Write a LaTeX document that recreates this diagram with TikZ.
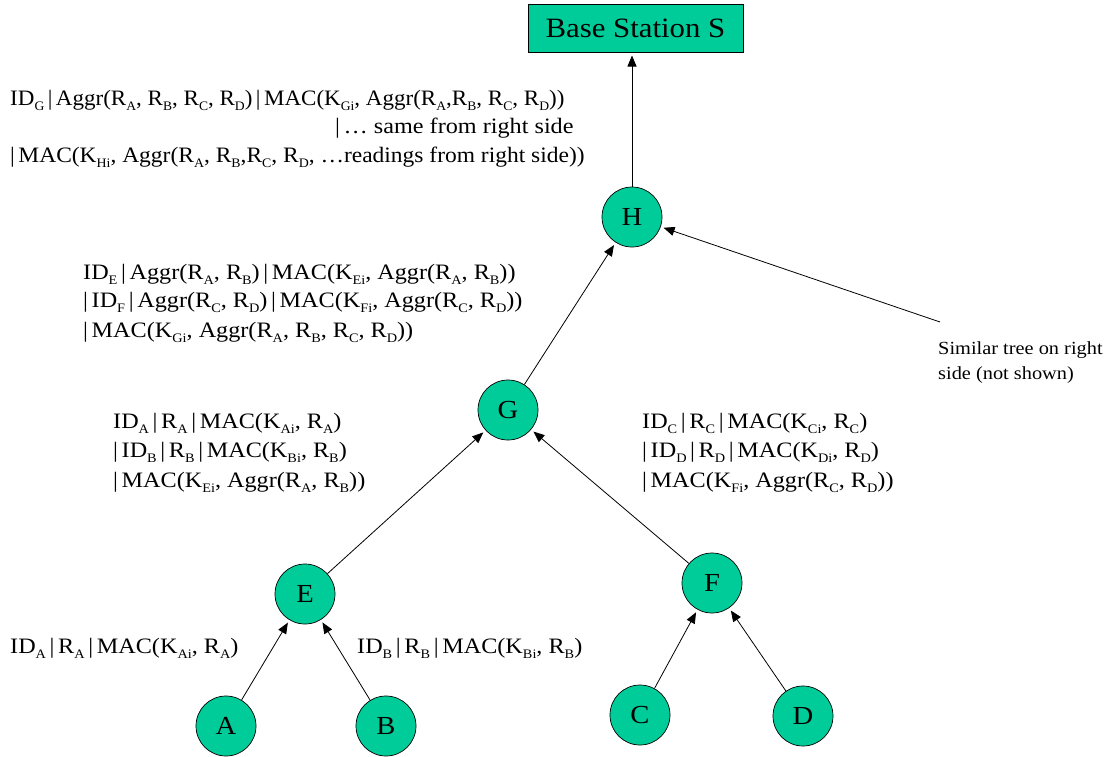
\documentclass[tikz,border=0pt]{standalone}
\usepackage{fontspec}
\setmainfont{Liberation Serif}[FakeStretch=1.1]
\usetikzlibrary{arrows.meta}
\definecolor{nodegreen}{RGB}{0,204,153}
% lowered small subscript letters used in the message formats
\newcommand{\sbs}[1]{\raisebox{-5pt}{\fontsize{13}{13}\selectfont #1}}
\begin{document}
\begin{tikzpicture}[x=1pt,y=-1pt,
  sensor/.style={circle,draw=black,line width=0.7pt,fill=nodegreen,
    minimum size=60pt,inner sep=0pt,font=\fontsize{26}{26}\selectfont},
  msg/.style={anchor=base west,inner sep=0pt,font=\fontsize{22}{22}\selectfont},
  note/.style={anchor=base west,inner sep=0pt,font=\fontsize{18.5}{18.5}\selectfont},
  link/.style={draw=black,line width=0.8pt,
    -{Triangle[length=11pt,width=9pt]},shorten >=3pt}]
\useasboundingbox (0,0) rectangle (1109,756);

% base station
\node[draw=black,line width=1pt,fill=nodegreen,minimum width=215pt,minimum height=48pt,
  inner sep=0pt,font=\fontsize{28}{28}\selectfont] (S) at (635.5,28) {Base Station S};

% sensor tree
\node[sensor] (H) at (632,217) {H};
\node[sensor] (G) at (508,410) {G};
\node[sensor] (E) at (305,594) {E};
\node[sensor] (F) at (712,583) {F};
\node[sensor] (A) at (226,726) {A};
\node[sensor] (B) at (386,726) {B};
\node[sensor] (C) at (640,715) {C};
\node[sensor] (D) at (803,716) {D};
\coordinate (R) at (940,322);

\draw[link] (H) -- (H |- S.south);
\draw[link] (G) -- (H);
\draw[link,shorten <=0pt] (R) -- (H);
\draw[link] (E) -- (G);
\draw[link] (F) -- (G);
\draw[link] (A) -- (E);
\draw[link] (B) -- (E);
\draw[link] (C) -- (F);
\draw[link] (D) -- (F);

% message sent by H
\node[msg] (h1) at (10,105) {\scalebox{0.952}[1]{ID\sbs{G}\,|\,Aggr(R\sbs{A}, R\sbs{B}, R\sbs{C}, R\sbs{D})\,|\,MAC(K\sbs{Gi}, Aggr(R\sbs{A},R\sbs{B}, R\sbs{C}, R\sbs{D}))}};
\node[msg] (h2) at (335,133) {|\,\dots\ same from right side};
\node[msg] (h3) at (10,162) {\scalebox{0.97}[1]{|\,MAC(K\sbs{Hi}, Aggr(R\sbs{A}, R\sbs{B},R\sbs{C}, R\sbs{D}, \dots readings from right side))}};

% message sent by G
\node[msg] (g1) at (83,279) {ID\sbs{E}\,|\,Aggr(R\sbs{A}, R\sbs{B})\,|\,MAC(K\sbs{Ei}, Aggr(R\sbs{A}, R\sbs{B}))};
\node[msg] (g2) at (83,307) {|\,ID\sbs{F}\,|\,Aggr(R\sbs{C}, R\sbs{D})\,|\,MAC(K\sbs{Fi}, Aggr(R\sbs{C}, R\sbs{D}))};
\node[msg] (g3) at (83,337) {|\,MAC(K\sbs{Gi}, Aggr(R\sbs{A}, R\sbs{B}, R\sbs{C}, R\sbs{D}))};

% message sent by E
\node[msg] (e1) at (113,428) {ID\sbs{A}\,|\,R\sbs{A}\,|\,MAC(K\sbs{Ai}, R\sbs{A})};
\node[msg] (e2) at (113,457) {|\,ID\sbs{B}\,|\,R\sbs{B}\,|\,MAC(K\sbs{Bi}, R\sbs{B})};
\node[msg] (e3) at (113,487) {|\,MAC(K\sbs{Ei}, Aggr(R\sbs{A}, R\sbs{B}))};

% message sent by F
\node[msg] (f1) at (642,428) {ID\sbs{C}\,|\,R\sbs{C}\,|\,MAC(K\sbs{Ci}, R\sbs{C})};
\node[msg] (f2) at (642,457) {|\,ID\sbs{D}\,|\,R\sbs{D}\,|\,MAC(K\sbs{Di}, R\sbs{D})};
\node[msg] (f3) at (642,487) {|\,MAC(K\sbs{Fi}, Aggr(R\sbs{C}, R\sbs{D}))};

% messages sent by A and B
\node[msg] (a1) at (10,653) {ID\sbs{A}\,|\,R\sbs{A}\,|\,MAC(K\sbs{Ai}, R\sbs{A})};
\node[msg] (b1) at (357,653) {ID\sbs{B}\,|\,R\sbs{B}\,|\,MAC(K\sbs{Bi}, R\sbs{B})};

% right subtree remark
\node[note] (n1) at (938,354) {Similar tree on right};
\node[note] (n2) at (938,379) {side (not shown)};
\end{tikzpicture}
\end{document}
